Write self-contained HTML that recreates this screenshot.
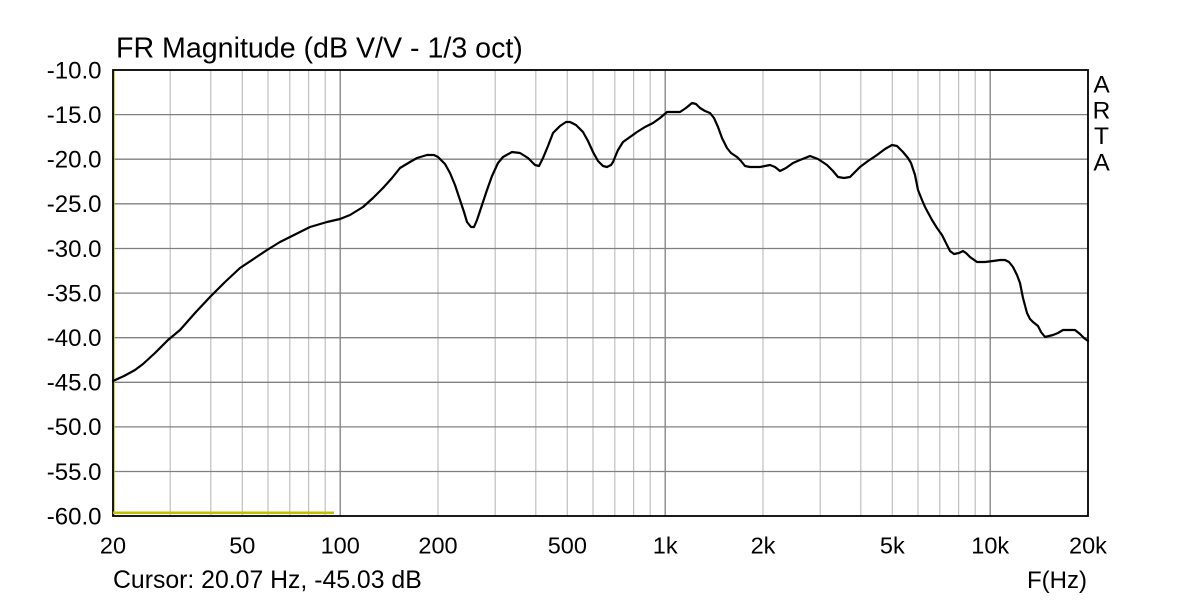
<!DOCTYPE html>
<html>
<head>
<meta charset="utf-8">
<style>
html,body{margin:0;padding:0;background:#fff;}
svg{display:block;}
text{font-family:"Liberation Sans",Arial,sans-serif;fill:#000;}
</style>
</head>
<body>
<svg width="1200" height="600" viewBox="0 0 1200 600" xmlns="http://www.w3.org/2000/svg">
<rect x="0" y="0" width="1200" height="600" fill="#fff"/>
<!-- minor vertical grid -->
<g stroke="#c0c0c0" stroke-width="1.2">
<line x1="170.2" y1="70" x2="170.2" y2="516"/>
<line x1="210.8" y1="70" x2="210.8" y2="516"/>
<line x1="242.3" y1="70" x2="242.3" y2="516"/>
<line x1="268.0" y1="70" x2="268.0" y2="516"/>
<line x1="289.8" y1="70" x2="289.8" y2="516"/>
<line x1="308.6" y1="70" x2="308.6" y2="516"/>
<line x1="325.2" y1="70" x2="325.2" y2="516"/>
<line x1="438.0" y1="70" x2="438.0" y2="516"/>
<line x1="495.2" y1="70" x2="495.2" y2="516"/>
<line x1="535.8" y1="70" x2="535.8" y2="516"/>
<line x1="567.3" y1="70" x2="567.3" y2="516"/>
<line x1="593.0" y1="70" x2="593.0" y2="516"/>
<line x1="614.8" y1="70" x2="614.8" y2="516"/>
<line x1="633.6" y1="70" x2="633.6" y2="516"/>
<line x1="650.2" y1="70" x2="650.2" y2="516"/>
<line x1="763.0" y1="70" x2="763.0" y2="516"/>
<line x1="820.2" y1="70" x2="820.2" y2="516"/>
<line x1="860.8" y1="70" x2="860.8" y2="516"/>
<line x1="892.3" y1="70" x2="892.3" y2="516"/>
<line x1="918.0" y1="70" x2="918.0" y2="516"/>
<line x1="939.8" y1="70" x2="939.8" y2="516"/>
<line x1="958.6" y1="70" x2="958.6" y2="516"/>
<line x1="975.2" y1="70" x2="975.2" y2="516"/>
</g>
<!-- major grid -->
<g stroke="#808080" stroke-width="1.3">
<line x1="340.2" y1="70" x2="340.2" y2="516"/>
<line x1="665.2" y1="70" x2="665.2" y2="516"/>
<line x1="990.2" y1="70" x2="990.2" y2="516"/>
<line x1="113" y1="114.6" x2="1088" y2="114.6"/>
<line x1="113" y1="159.2" x2="1088" y2="159.2"/>
<line x1="113" y1="203.8" x2="1088" y2="203.8"/>
<line x1="113" y1="248.5" x2="1088" y2="248.5"/>
<line x1="113" y1="293.1" x2="1088" y2="293.1"/>
<line x1="113" y1="337.7" x2="1088" y2="337.7"/>
<line x1="113" y1="382.3" x2="1088" y2="382.3"/>
<line x1="113" y1="426.9" x2="1088" y2="426.9"/>
<line x1="113" y1="471.5" x2="1088" y2="471.5"/>
</g>
<!-- cursor lines -->
<line x1="114.3" y1="71" x2="114.3" y2="515" stroke="#c8c800" stroke-width="0.9"/>
<!-- frame -->
<rect x="113" y="70" width="975" height="446" fill="none" stroke="#000" stroke-width="1.8"/>
<line x1="113" y1="512.7" x2="334" y2="512.7" stroke="#c0c000" stroke-width="2.5"/>
<!-- curve -->
<polyline fill="none" stroke="#000" stroke-width="2.2" stroke-linejoin="round" stroke-linecap="round" points="
113,381 124,376 135,370 143,364 155,353 168,340 180,330 195,313 210,297 225,282 240,268 255,258 267,250 280,242 290,237 300,232 310,227 327,222 340,219 350,215 363,207 373,198 383,188 392,178 400,168 410,162 417,158 427,155 434,155 438,157 445,164 450,173 455,185 460,200 464,212 467,222 471,227 474,227 477,220 482,205 487,190 492,176 498,163 503,157 512,152 520,153 528,158 535,165 539,166 543,158 548,146 553,133 560,126 566,122 570,122 576,125 583,132 588,141 593,152 598,161 603,166 607,167 611,165 613,162 618,150 623,142 630,137 637,132 645,127 653,123 660,118 667,112 672,112 680,112 686,108 692,103 696,104 700,108 705,111 710,113 714,118 718,127 722,138 727,148 731,153 737,157 741,161 745,166 750,167 755,167 760,167 765,166 770,165 775,167 780,171 786,168 793,163 800,160 810,156 818,159 827,165 833,171 838,177 844,178 850,177 855,172 860,167 868,161 877,155 885,149 892,145 897,146 903,152 908,158 911,163 915,175 918,190 922,200 925,207 932,220 937,228 942,235 946,243 950,251 954,254 959,253 963,251 966,253 970,257 977,262 985,262 993,261 1000,260 1005,260 1009,262 1013,267 1017,275 1020,283 1023,298 1027,313 1030,319 1033,322 1038,326 1041,332 1045,337 1049,336 1053,335 1058,333 1063,330 1070,330 1075,330 1080,334 1084,338 1088,341"/>
<!-- title -->
<text x="116" y="57.3" font-size="28.6">FR Magnitude (dB V/V - 1/3 oct)</text>
<!-- y labels -->
<g font-size="24" text-anchor="end">
<text x="101.5" y="78.3">-10.0</text>
<text x="101.5" y="122.9">-15.0</text>
<text x="101.5" y="167.5">-20.0</text>
<text x="101.5" y="212.1">-25.0</text>
<text x="101.5" y="256.8">-30.0</text>
<text x="101.5" y="301.4">-35.0</text>
<text x="101.5" y="346.0">-40.0</text>
<text x="101.5" y="390.6">-45.0</text>
<text x="101.5" y="435.2">-50.0</text>
<text x="101.5" y="479.8">-55.0</text>
<text x="101.5" y="524.3">-60.0</text>
</g>
<!-- x labels -->
<g font-size="23.5" text-anchor="middle">
<text x="113" y="553.3">20</text>
<text x="242.3" y="553.3">50</text>
<text x="340.2" y="553.3">100</text>
<text x="438" y="553.3">200</text>
<text x="567.3" y="553.3">500</text>
<text x="665.2" y="553.3">1k</text>
<text x="763" y="553.3">2k</text>
<text x="892.3" y="553.3">5k</text>
<text x="990.2" y="553.3">10k</text>
<text x="1088" y="553.3">20k</text>
</g>
<text x="113" y="588" font-size="24.8">Cursor: 20.07 Hz, -45.03 dB</text>
<text x="1087" y="588" font-size="24" text-anchor="end">F(Hz)</text>
<!-- ARTA -->
<g font-size="24.5" text-anchor="middle">
<text x="1101.5" y="92.7">A</text>
<text x="1101.5" y="118.3">R</text>
<text x="1101.5" y="144">T</text>
<text x="1101.5" y="170.5">A</text>
</g>
</svg>
</body>
</html>
